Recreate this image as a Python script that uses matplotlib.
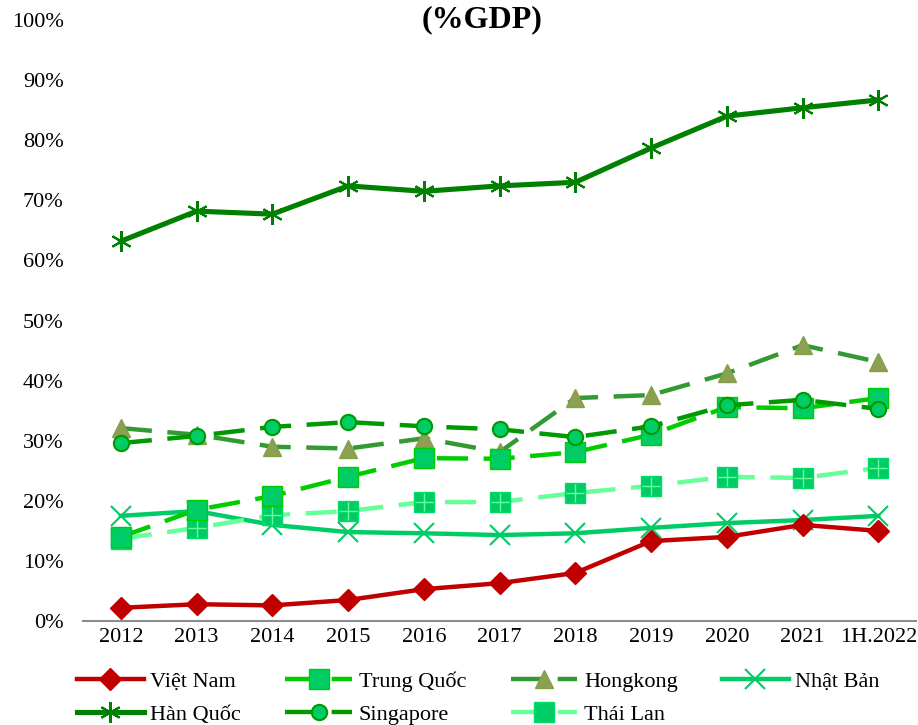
import numpy as np
import matplotlib
matplotlib.use("Agg")
import matplotlib.pyplot as plt

plt.rcParams['font.family'] = ['Liberation Serif', 'DejaVu Serif']

years = ['2012', '2013', '2014', '2015', '2016', '2017', '2018', '2019', '2020', '2021', '1H.2022']

viet_nam = [2.2, 2.8, 2.6, 3.5, 5.3, 6.3, 8.0, 13.3, 14.0, 16.0, 15.0]
trung_quoc = [14.0, 18.5, 20.8, 24.0, 27.1, 27.0, 28.1, 31.0, 35.6, 35.4, 37.1]
hongkong = [32.1, 31.0, 29.0, 28.7, 30.4, 28.1, 37.1, 37.6, 41.2, 45.9, 43.1]
nhat_ban = [17.5, 18.3, 16.0, 14.8, 14.6, 14.3, 14.6, 15.5, 16.3, 16.8, 17.5]
han_quoc = [63.2, 68.2, 67.7, 72.4, 71.5, 72.4, 73.0, 78.7, 84.0, 85.4, 86.7]
singapore = [29.6, 30.8, 32.3, 33.1, 32.4, 31.9, 30.6, 32.4, 35.9, 36.8, 35.3]
thai_lan = [13.7, 15.5, 17.6, 18.3, 19.8, 19.8, 21.3, 22.5, 24.0, 23.8, 25.5]

fig = plt.figure(figsize=(9.18, 7.25), dpi=100)
ax = fig.add_axes([0.0904, 0.1434, 0.9076, 0.829])

x = np.arange(len(years))
lw = 3.2
dash = (0, (7, 3.5))

ax.plot(x, viet_nam, color='#C00000', lw=lw, marker='D', ms=11,
        mfc='#C00000', mec='#C00000', label='Việt Nam', zorder=5)
ax.plot(x, trung_quoc, color='#00CC00', lw=lw, ls=dash, marker='s', ms=14,
        mfc='#00CC66', mec='#00CC00', mew=1, label='Trung Quốc', zorder=4)
ax.plot(x, hongkong, color='#339933', lw=lw, ls=dash, marker='^', ms=13,
        mfc='#8BA050', mec='#86A04A', label='Hongkong', zorder=3)
ax.plot(x, nhat_ban, color='#00CC66', lw=lw, marker='x', ms=14, mew=1.5,
        mec='#00CC66', label='Nhật Bản', zorder=3)
ax.plot(x, han_quoc, color='#008000', lw=lw + 0.5, marker=(6, 2, 0), ms=15, mew=1.5,
        mec='#008000', label='Hàn Quốc', zorder=3)
ax.plot(x, singapore, color='#009900', lw=lw, ls=dash, marker='o', ms=11,
        mfc='#00CC66', mec='#009900', mew=1.5, label='Singapore', zorder=4)
ax.plot(x, thai_lan, color='#66FF99', lw=lw, ls=dash, marker='s', ms=14,
        mfc='#00CC66', mec='#00DD66', mew=1, label='Thái Lan', zorder=3)
# light cross inside Thai Lan squares
ax.plot(x, thai_lan, ls='none', marker='+', ms=13, mew=1, mec='#66FF99', zorder=3.5)

ax.set_xlim(-0.5, len(years) - 0.5)
ax.set_ylim(0, 100)
ax.set_xticks(x)
ax.set_xticklabels(years, fontsize=16)
ax.set_yticks(np.arange(0, 101, 10))
ax.set_yticklabels([f'{v}%' for v in range(0, 101, 10)], fontsize=16)
ax.tick_params(axis='x', length=0, pad=5)
ax.tick_params(axis='y', length=0, pad=14)
for s in ['top', 'right', 'left']:
    ax.spines[s].set_visible(False)
ax.spines['bottom'].set_color('#8C8C8C')
ax.spines['bottom'].set_linewidth(1.5)

fig.text(0.525, 0.973, '(%GDP)', ha='center', va='center', fontsize=23, fontweight='bold')

# legend fills row by row in the reference, matplotlib fills by column
handles, labels = ax.get_legend_handles_labels()
order = [0, 4, 1, 5, 2, 6, 3]
fig.legend([handles[i] for i in order], [labels[i] for i in order],
           ncol=4, loc='lower left', bbox_to_anchor=(0.062, -0.027),
           frameon=False, fontsize=16, handlelength=3.0, handletextpad=0.3,
           columnspacing=2.0, labelspacing=0.55)

fig.savefig('out.png', dpi=100)
